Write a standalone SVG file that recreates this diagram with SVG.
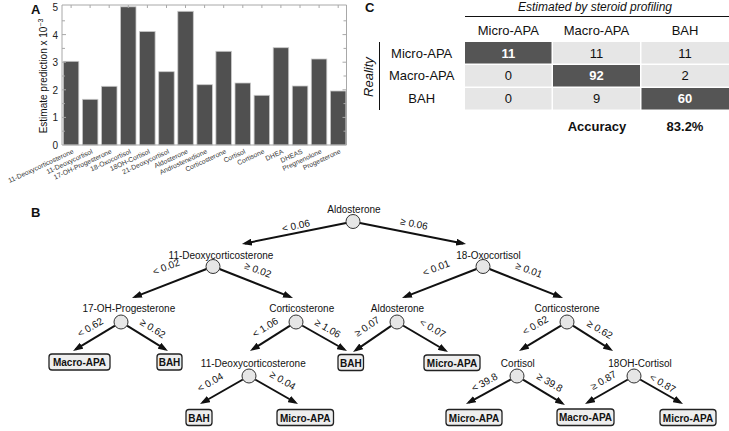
<svg xmlns="http://www.w3.org/2000/svg" width="729" height="431" viewBox="0 0 729 431">
<defs>
<style>
text{font-family:"Liberation Sans",Arial,sans-serif;fill:#111}
.pl{font-weight:bold;font-size:13px}
.tick{font-size:10px;fill:#222}
.xl{font-size:6.8px;fill:#333}
.bar{fill:#505050;stroke:#c8c8c8;stroke-width:0.8}
.ax{stroke:#a8a8a8;stroke-width:1;fill:none}
.hd{font-size:13px}
.cl{fill:#e6e6e6}
.cd{fill:#555555}
.num{font-size:13px;text-anchor:middle}
.numw{font-size:13px;text-anchor:middle;font-weight:bold;fill:#fff}
.nl{font-size:10px;text-anchor:middle}
.el{font-size:10px;text-anchor:middle}
.nd{fill:#e6e6e6;stroke:#333;stroke-width:1}
.leaf rect{fill:#eeeeee;stroke:#222;stroke-width:1.3}
.leaf text{font-size:10px;font-weight:bold;text-anchor:middle}
.edge{stroke:#111;stroke-width:2;fill:none;marker-end:url(#ah)}
</style>
<marker id="ah" markerUnits="userSpaceOnUse" markerWidth="10" markerHeight="7" refX="7" refY="3.5" orient="auto"><path d="M0,0 L10,3.5 L0,7 z" fill="#111"/></marker>
</defs>
<rect width="729" height="431" fill="#fff"/>

<!-- Panel A -->
<g id="panelA">
<text class="pl" x="31" y="14">A</text>
<g id="bars">
<rect class="bar" x="63.3" y="61.3" width="15.5" height="83.7"/>
<rect class="bar" x="82.4" y="99.3" width="15.5" height="45.7"/>
<rect class="bar" x="101.5" y="86.3" width="15.5" height="58.7"/>
<rect class="bar" x="120.5" y="6.8" width="15.5" height="138.2"/>
<rect class="bar" x="139.6" y="31.5" width="15.5" height="113.5"/>
<rect class="bar" x="158.7" y="71.7" width="15.5" height="73.3"/>
<rect class="bar" x="177.8" y="11.3" width="15.5" height="133.7"/>
<rect class="bar" x="196.9" y="84.7" width="15.5" height="60.3"/>
<rect class="bar" x="215.9" y="51.3" width="15.5" height="93.7"/>
<rect class="bar" x="235.0" y="83" width="15.5" height="62"/>
<rect class="bar" x="254.1" y="95.3" width="15.5" height="49.7"/>
<rect class="bar" x="273.2" y="47.7" width="15.5" height="97.3"/>
<rect class="bar" x="292.3" y="86" width="15.5" height="59"/>
<rect class="bar" x="311.3" y="59" width="15.5" height="86"/>
<rect class="bar" x="330.4" y="91" width="15.5" height="54"/>
</g>
<path class="ax" d="M62,5 V145 H346.5 V5 H62"/>
<path class="ax" d="M62,131.2h3M62,117.4h4M62,103.6h3M62,89.8h4M62,76h3M62,62.2h4M62,48.4h3M62,34.6h4M62,20.8h3M346.5,131.2h-3M346.5,117.4h-4M346.5,103.6h-3M346.5,89.8h-4M346.5,76h-3M346.5,62.2h-4M346.5,48.4h-3M346.5,34.6h-4M346.5,20.8h-3"/>
<path class="ax" d="M71.1,5v3M90.1,5v3M109.2,5v3M128.3,5v3M147.4,5v3M166.5,5v3M185.5,5v3M204.6,5v3M223.7,5v3M242.8,5v3M261.9,5v3M280.9,5v3M300,5v3M319.1,5v3M338.2,5v3"/>
<g text-anchor="end">
<text class="tick" x="58" y="11">5</text>
<text class="tick" x="58" y="38.6">4</text>
<text class="tick" x="58" y="66.2">3</text>
<text class="tick" x="58" y="93.8">2</text>
<text class="tick" x="58" y="121.4">1</text>
<text class="tick" x="58" y="149">0</text>
</g>
<text transform="translate(46.5,76) rotate(-90)" text-anchor="middle" font-size="10" fill="#222">Estimate prediction x 10<tspan font-size="7" dy="-4">−3</tspan></text>
<g text-anchor="end">
<text class="xl" transform="translate(74.1,153) rotate(-25)">11-Deoxycorticosterone</text>
<text class="xl" transform="translate(93.1,153) rotate(-25)">11-Deoxycortisol</text>
<text class="xl" transform="translate(112.2,153) rotate(-25)">17-OH-Progesterone</text>
<text class="xl" transform="translate(131.3,153) rotate(-25)">18-Oxocortisol</text>
<text class="xl" transform="translate(150.4,153) rotate(-25)">18OH-Cortisol</text>
<text class="xl" transform="translate(169.5,153) rotate(-25)">21-Deoxycortisol</text>
<text class="xl" transform="translate(188.5,153) rotate(-25)">Aldosterone</text>
<text class="xl" transform="translate(207.6,153) rotate(-25)">Androstenedione</text>
<text class="xl" transform="translate(226.7,153) rotate(-25)">Corticosterone</text>
<text class="xl" transform="translate(245.8,153) rotate(-25)">Cortisol</text>
<text class="xl" transform="translate(264.9,153) rotate(-25)">Cortisone</text>
<text class="xl" transform="translate(283.9,153) rotate(-25)">DHEA</text>
<text class="xl" transform="translate(303,153) rotate(-25)">DHEAS</text>
<text class="xl" transform="translate(322.1,153) rotate(-25)">Pregnenolone</text>
<text class="xl" transform="translate(341.2,153) rotate(-25)">Progesterone</text>
</g>
</g>

<!-- Panel C -->
<g id="panelC">
<text class="pl" x="365" y="12">C</text>
<text x="595" y="11" text-anchor="middle" font-size="12" font-style="italic">Estimated by steroid profiling</text>
<line x1="465" y1="16.5" x2="729" y2="16.5" stroke="#111" stroke-width="1"/>
<text class="hd" x="508.3" y="35" text-anchor="middle">Micro-APA</text>
<text class="hd" x="596.5" y="35" text-anchor="middle">Macro-APA</text>
<text class="hd" x="685" y="35" text-anchor="middle">BAH</text>
<text transform="translate(373,77) rotate(-90)" text-anchor="middle" font-size="13" font-style="italic">Reality</text>
<line x1="379.5" y1="42" x2="379.5" y2="110" stroke="#111" stroke-width="1"/>
<text class="hd" x="421.7" y="57.5" text-anchor="middle">Micro-APA</text>
<text class="hd" x="421.7" y="80.3" text-anchor="middle">Macro-APA</text>
<text class="hd" x="421.7" y="103.3" text-anchor="middle">BAH</text>
<rect class="cd" x="465" y="42" width="86.5" height="21.5"/>
<rect class="cl" x="553" y="42" width="87" height="21.5"/>
<rect class="cl" x="641.5" y="42" width="87.5" height="21.5"/>
<rect class="cl" x="465" y="65" width="86.5" height="21.5"/>
<rect class="cd" x="553" y="65" width="87" height="21.5"/>
<rect class="cl" x="641.5" y="65" width="87.5" height="21.5"/>
<rect class="cl" x="465" y="88" width="86.5" height="21.5"/>
<rect class="cl" x="553" y="88" width="87" height="21.5"/>
<rect class="cd" x="641.5" y="88" width="87.5" height="21.5"/>
<text class="numw" x="508.3" y="57.5">11</text>
<text class="num" x="596.5" y="57.5">11</text>
<text class="num" x="685" y="57.5">11</text>
<text class="num" x="508.3" y="80.3">0</text>
<text class="numw" x="596.5" y="80.3">92</text>
<text class="num" x="685" y="80.3">2</text>
<text class="num" x="508.3" y="103.3">0</text>
<text class="num" x="596.5" y="103.3">9</text>
<text class="numw" x="685" y="103.3">60</text>
<text x="597" y="131" text-anchor="middle" font-size="13" font-weight="bold">Accuracy</text>
<text x="685" y="131" text-anchor="middle" font-size="13" font-weight="bold">83.2%</text>
</g>

<!-- Panel B -->
<text class="pl" x="31" y="217">B</text>
<g id="connectors">
<line class="edge" x1="346.1" y1="222.9" x2="244.9" y2="243.4"/>
<line class="edge" x1="359.9" y1="222.9" x2="463.1" y2="243.4"/>
<line class="edge" x1="206.5" y1="269" x2="134.8" y2="296.9"/>
<line class="edge" x1="219.5" y1="269" x2="290.2" y2="296.9"/>
<line class="edge" x1="115" y1="325.6" x2="75.6" y2="349.4"/>
<line class="edge" x1="127" y1="325.6" x2="165.4" y2="349.4"/>
<line class="edge" x1="290.1" y1="325.7" x2="252.5" y2="349.4"/>
<line class="edge" x1="302.1" y1="325.5" x2="344.4" y2="349.5"/>
<line class="edge" x1="242.9" y1="379.5" x2="202.6" y2="402.5"/>
<line class="edge" x1="255.1" y1="379.5" x2="295.4" y2="402.5"/>
<line class="edge" x1="476.5" y1="269" x2="404.8" y2="296.9"/>
<line class="edge" x1="489.5" y1="269" x2="560.2" y2="296.9"/>
<line class="edge" x1="391.2" y1="325.9" x2="355.5" y2="350.3"/>
<line class="edge" x1="403" y1="325.5" x2="445.4" y2="350.5"/>
<line class="edge" x1="561" y1="325.6" x2="521.6" y2="349.4"/>
<line class="edge" x1="572.9" y1="325.7" x2="610.5" y2="349.4"/>
<line class="edge" x1="510.9" y1="379.4" x2="468.6" y2="402.6"/>
<line class="edge" x1="523" y1="379.6" x2="562.4" y2="403.4"/>
<line class="edge" x1="627.9" y1="379.5" x2="587.6" y2="402.5"/>
<line class="edge" x1="640.1" y1="379.5" x2="680.4" y2="402.5"/>
<g id="edge-labels">
<text class="el" transform="translate(297,231) rotate(-11.7)" dy="-0.2em">&lt; 0.06</text>
<text class="el" transform="translate(413,229) rotate(11.5)" dy="-0.2em">≥ 0.06</text>
<text class="el" transform="translate(168,272) rotate(-21)" dy="-0.2em">&lt; 0.02</text>
<text class="el" transform="translate(256,275) rotate(21)" dy="-0.2em">≥ 0.02</text>
<text class="el" transform="translate(93,332) rotate(-31)" dy="-0.2em">&lt; 0.62</text>
<text class="el" transform="translate(150,333) rotate(32)" dy="-0.2em">≥ 0.62</text>
<text class="el" transform="translate(268,332) rotate(-32)" dy="-0.2em">&lt; 1.06</text>
<text class="el" transform="translate(325,333) rotate(30)" dy="-0.2em">≥ 1.06</text>
<text class="el" transform="translate(213,387) rotate(-30)" dy="-0.2em">&lt; 0.04</text>
<text class="el" transform="translate(280,385) rotate(30)" dy="-0.2em">≥ 0.04</text>
<text class="el" transform="translate(438,273) rotate(-21)" dy="-0.2em">&lt; 0.01</text>
<text class="el" transform="translate(527,275) rotate(21)" dy="-0.2em">≥ 0.01</text>
<text class="el" transform="translate(370,331) rotate(-34)" dy="-0.2em">≥ 0.07</text>
<text class="el" transform="translate(430,333) rotate(30)" dy="-0.2em">&lt; 0.07</text>
<text class="el" transform="translate(538,330) rotate(-31)" dy="-0.2em">&lt; 0.62</text>
<text class="el" transform="translate(597,334) rotate(31)" dy="-0.2em">≥ 0.62</text>
<text class="el" transform="translate(487,387) rotate(-29)" dy="-0.2em">&lt; 39.8</text>
<text class="el" transform="translate(547,387) rotate(30)" dy="-0.2em">≥ 39.8</text>
<text class="el" transform="translate(606,385) rotate(-30)" dy="-0.2em">≥ 0.87</text>
<text class="el" transform="translate(660,388) rotate(30)" dy="-0.2em">&lt; 0.87</text>
</g>
</g>

<g id="n-aldosterone"><text class="nl" x="354" y="213">Aldosterone</text><circle class="nd" cx="353" cy="221.5" r="7"/></g>
<g id="n-11doc"><text class="nl" x="221" y="258.5">11-Deoxycorticosterone</text><circle class="nd" cx="213" cy="266.5" r="7"/></g>
<g id="n-18oxo"><text class="nl" x="488.5" y="258.5">18-Oxocortisol</text><circle class="nd" cx="483" cy="266.5" r="7"/></g>
<g id="n-17oh"><text class="nl" x="128.8" y="312">17-OH-Progesterone</text><circle class="nd" cx="121" cy="322" r="7"/></g>
<g id="n-cortico1"><text class="nl" x="301.7" y="312">Corticosterone</text><circle class="nd" cx="296" cy="322" r="7"/></g>
<g id="n-aldo2"><text class="nl" x="397.5" y="312">Aldosterone</text><circle class="nd" cx="397" cy="322" r="7"/></g>
<g id="n-cortico2"><text class="nl" x="567" y="312">Corticosterone</text><circle class="nd" cx="567" cy="322" r="7"/></g>
<g id="n-11doc2"><text class="nl" x="253.3" y="366.5">11-Deoxycorticosterone</text><circle class="nd" cx="249" cy="376" r="7"/></g>
<g id="n-cortisol"><text class="nl" x="517.8" y="366.5">Cortisol</text><circle class="nd" cx="517" cy="376" r="7"/></g>
<g id="n-18oh"><text class="nl" x="640" y="366.5">18OH-Cortisol</text><circle class="nd" cx="634" cy="376" r="7"/></g>

<g id="leaf1" class="leaf"><rect x="49" y="354" width="61" height="16" rx="3"/><text x="79.5" y="366">Macro-APA</text></g>
<g id="leaf2" class="leaf"><rect x="157" y="354" width="25" height="16" rx="3"/><text x="169.5" y="366">BAH</text></g>
<g id="leaf3" class="leaf"><rect x="338" y="354.5" width="25.5" height="16" rx="3"/><text x="350.8" y="366.5">BAH</text></g>
<g id="leaf4" class="leaf"><rect x="424" y="355" width="56" height="15.5" rx="3"/><text x="452" y="366.7">Micro-APA</text></g>
<g id="leaf5" class="leaf"><rect x="186" y="409.5" width="26" height="16" rx="3"/><text x="199" y="421.5">BAH</text></g>
<g id="leaf6" class="leaf"><rect x="277" y="409.5" width="56.5" height="16" rx="3"/><text x="305.2" y="421.5">Micro-APA</text></g>
<g id="leaf7" class="leaf"><rect x="446" y="409.5" width="56" height="16" rx="3"/><text x="474" y="421.5">Micro-APA</text></g>
<g id="leaf8" class="leaf"><rect x="557" y="409" width="57" height="16.5" rx="3"/><text x="585.5" y="421.3">Macro-APA</text></g>
<g id="leaf9" class="leaf"><rect x="660" y="409.5" width="56" height="16" rx="3"/><text x="688" y="421.5">Micro-APA</text></g>
</svg>
